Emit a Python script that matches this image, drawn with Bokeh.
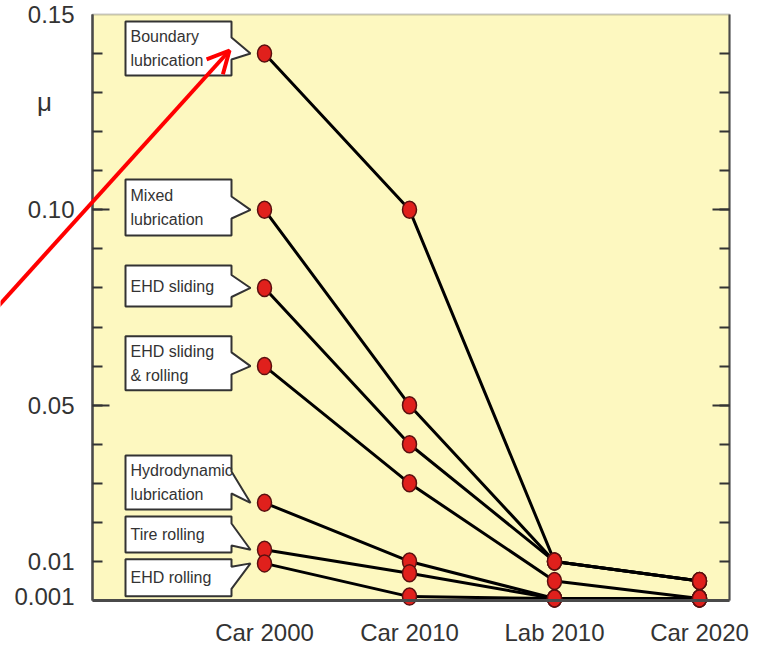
from bokeh.plotting import figure
from bokeh.models import (Range1d, FixedTicker, LinearAxis, Label, Arrow, OpenHead,
                          BoxAnnotation)
from bokeh.embed import file_html
from bokeh.resources import INLINE
from bokeh.core.properties import value

# ---------------- data ----------------
categories = ["Car 2000", "Car 2010", "Lab 2010", "Car 2020"]
series_names = ["Boundary\nlubrication", "Mixed\nlubrication", "EHD sliding",
                "EHD sliding\n& rolling", "Hydrodynamic\nlubrication",
                "Tire rolling", "EHD rolling"]
boundary = [0.140, 0.100, 0.010, 0.005]
mixed = [0.100, 0.050, 0.010, 0.005]
ehd_sliding = [0.080, 0.040, 0.010, 0.005]
ehd_sliding_rolling = [0.060, 0.030, 0.005, 0.0005]
hydrodynamic = [0.025, 0.010, 0.0005, 0.0005]
tire_rolling = [0.013, 0.007, 0.0005, 0.0005]
ehd_rolling = [0.0095, 0.001, 0.0005, 0.0005]
y_ticks = [0.001, 0.01, 0.05, 0.10, 0.15]
y_tick_labels = ["0.001", "0.01", "0.05", "0.10", "0.15"]
y_long_ticks = [0.05, 0.10]
y_minor_ticks = [0.01, 0.02, 0.03, 0.04, 0.05, 0.06, 0.07, 0.08, 0.09,
                 0.10, 0.11, 0.12, 0.13, 0.14]

all_series = [boundary, mixed, ehd_sliding, ehd_sliding_rolling,
              hydrodynamic, tire_rolling, ehd_rolling]

# ---------------- layout ----------------
label_center_y = [0.1413, 0.1006, 0.0805, 0.0607, 0.0302, 0.0169, 0.0058]
label_height_px = [54, 56, 41, 54, 54, 36, 37]

W, H = 755, 650
XPX = 1 / 145.0          # data units per pixel (x)
YPX = 1 / 3906.7         # data units per pixel (y)
X0 = -264 * XPX
X1 = X0 + W * XPX
Y1 = 600 * YPX
Y0 = Y1 - H * YPX
XL = -172 * XPX          # left edge of the plot box
XR = 465 * XPX           # right edge of the plot box
YB, YT = 0.0, 0.15

BG = "#fdf8c0"
DARK = "#333333"
FRAME = "#4a4a4a"

p = figure(width=W, height=H, x_range=Range1d(X0, X1), y_range=Range1d(Y0, Y1),
           output_backend="svg", toolbar_location=None, title=None,
           min_border_left=0, min_border_right=0, min_border_top=0, min_border_bottom=0)
p.background_fill_color = "white"
p.border_fill_color = "white"
p.outline_line_color = None
p.grid.visible = False

p.add_layout(BoxAnnotation(left=XL, right=XR, bottom=YB, top=YT, fill_color=BG,
                           fill_alpha=1, line_color=FRAME, line_width=2,
                           level="underlay"))

# x axis
xa = p.xaxis[0]
xa.fixed_location = 0
xa.bounds = (XL, XR)
xa.ticker = FixedTicker(ticks=list(range(len(categories))))
xa.major_label_overrides = {i: c for i, c in enumerate(categories)}
xa.major_tick_in = 0
xa.major_tick_out = 0
xa.minor_tick_in = 0
xa.minor_tick_out = 0
xa.axis_line_color = FRAME
xa.axis_line_width = 3
xa.major_label_text_font = "Liberation Sans"
xa.major_label_text_font_size = "24px"
xa.major_label_text_color = DARK
xa.major_label_standoff = 18

# y axis (left): labels only
ya = p.yaxis[0]
ya.fixed_location = XL
ya.bounds = (YB, YT)
ya.ticker = FixedTicker(ticks=y_ticks, minor_ticks=[])
ya.major_label_overrides = dict(zip(y_ticks, y_tick_labels))
ya.major_tick_in = 0
ya.major_tick_out = 0
ya.minor_tick_in = 0
ya.minor_tick_out = 0
ya.axis_line_color = FRAME
ya.axis_line_width = 2
ya.major_label_text_font = "Liberation Sans"
ya.major_label_text_font_size = "24px"
ya.major_label_text_color = DARK
ya.major_label_standoff = 18


def tick_axis(loc):
    ax = LinearAxis(fixed_location=loc, bounds=(YB, YT),
                    ticker=FixedTicker(ticks=y_long_ticks, minor_ticks=y_minor_ticks))
    ax.major_label_overrides = {t: "" for t in y_long_ticks}
    ax.major_tick_in = 17
    ax.major_tick_out = 0
    ax.minor_tick_in = 10
    ax.minor_tick_out = 0
    ax.major_tick_line_width = 2
    ax.minor_tick_line_width = 2
    ax.major_tick_line_color = DARK
    ax.minor_tick_line_color = DARK
    ax.axis_line_color = FRAME
    ax.axis_line_width = 2
    return ax


p.add_layout(tick_axis(XL), "left")
p.add_layout(tick_axis(XR), "right")

# callout boxes
xs_all, ys_all = [], []
left = 0 - 139 * XPX
right = 0 - 33 * XPX
tip = 0 - 14 * XPX
for c, h, s in zip(label_center_y, label_height_px, all_series):
    top = c + h / 2 * YPX
    bot = c - h / 2 * YPX
    b_top = c + 11 * YPX
    b_bot = c - 11 * YPX
    xs_all.append([left, right, right, tip, right, right, left])
    ys_all.append([top, top, b_top, s[0], b_bot, bot, bot])
p.patches(xs_all, ys_all, fill_color="white", line_color=DARK, line_width=2)
p.text(x=[left + 5 * XPX] * len(series_names), y=label_center_y, text=series_names,
       text_align="left", text_baseline="middle",
       text_font=value("Liberation Sans"), text_font_size="16px",
       text_color=DARK, text_line_height=1.45)

# lines and points
xpos = list(range(len(categories)))
for s in all_series:
    p.line(xpos, s, line_color="black", line_width=3)
for s in all_series:
    p.ellipse(xpos, s, width=14, height=17, width_units="screen", height_units="screen",
              fill_color="#e0201c", line_color="#5a1010", line_width=1.5)

# mu label
p.add_layout(Label(x=-220 * XPX, y=0.1275, text="μ", text_align="center",
                   text_baseline="middle", text_font="Liberation Sans",
                   text_font_size="26px", text_color=DARK))

# red arrow
p.add_layout(Arrow(x_start=-272 * XPX, y_start=288 * YPX,
                   x_end=-35 * XPX, y_end=550 * YPX,
                   line_color="#ff0000", line_width=4,
                   end=OpenHead(size=22, line_color="#ff0000", line_width=4),
                   level="overlay"))

open("out.html", "w").write(file_html(p, INLINE))
